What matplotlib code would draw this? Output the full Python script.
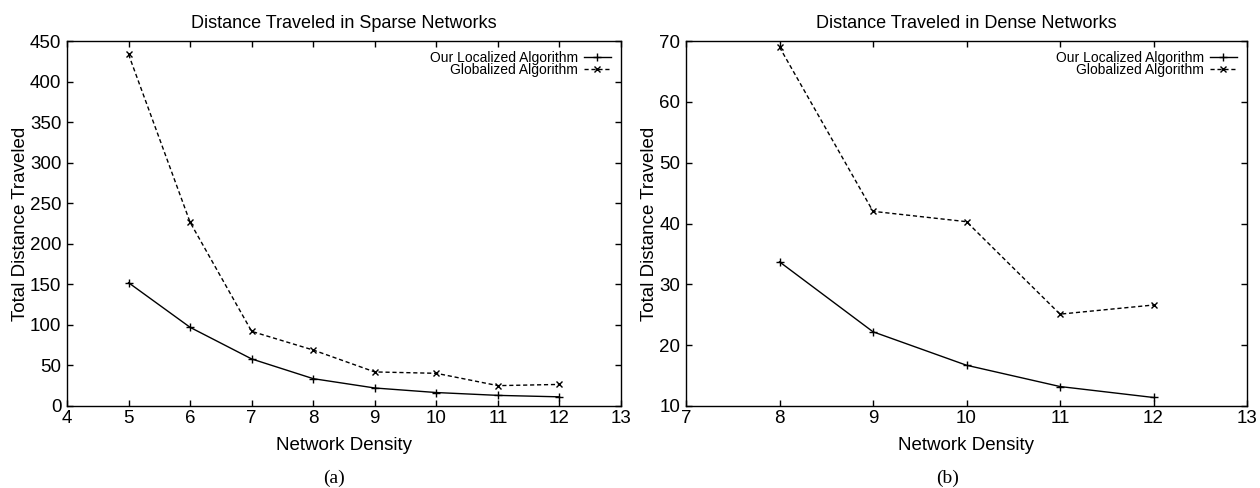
import matplotlib
matplotlib.use("Agg")
import matplotlib.pyplot as plt

plt.rcParams.update({
    "font.family": ["Liberation Sans", "DejaVu Sans"],
    "axes.linewidth": 1.0,
})

# sparse networks
sparse_density = [5, 6, 7, 8, 9, 10, 11, 12]
sparse_local = [152, 97, 58, 33.7, 22.2, 16.6, 13.1, 11.3]
sparse_global = [433.5, 226.5, 92, 69, 42, 40.3, 25.1, 26.6]

# dense networks
dense_density = [8, 9, 10, 11, 12]
dense_local = [33.7, 22.2, 16.7, 13.2, 11.4]
dense_global = [69, 42, 40.3, 25.1, 26.6]

LABELS = ["Our Localized Algorithm", "Globalized Algorithm"]


def draw_panel(ax, x, local, glob, title, xlim, ylim, yticks, caption, cap_x):
    ax.plot(x, local, color="black", lw=1.0, marker="+", ms=6, mew=1.0,
            label=LABELS[0])
    ax.plot(x, glob, color="black", lw=1.0, ls=(0, (3, 2)), marker="x", ms=5,
            mew=1.0, label=LABELS[1])
    ax.set_xlim(*xlim)
    ax.set_ylim(*ylim)
    ax.set_xticks(range(xlim[0], xlim[1] + 1))
    ax.set_yticks(yticks)
    ax.tick_params(direction="in", top=True, right=True, length=4, width=1,
                   labelsize=13.5)
    ax.tick_params(axis="x", pad=3)
    ax.tick_params(axis="y", pad=4)
    ax.set_title(title, fontsize=13, pad=9)
    ax.set_xlabel("Network Density", fontsize=13.5, labelpad=7)
    ax.set_ylabel("Total Distance Traveled", fontsize=13.5, labelpad=1)
    leg = ax.legend(loc="upper right", frameon=False, markerfirst=False,
                    fontsize=10, handlelength=2.0, handletextpad=0.4,
                    labelspacing=-0.1, borderaxespad=0.4, borderpad=0.3)
    for t in leg.get_texts():
        t.set_ha("right")
    # caption under each panel, centred like the original figure
    fig.text(cap_x / 1260, 1 - 478 / 488, caption, ha="center",
             va="center", fontsize=14, family=["Liberation Serif", "DejaVu Serif"])


fig = plt.figure(figsize=(12.6, 4.88), dpi=100)
ax1 = fig.add_axes([67 / 1260, 1 - 406 / 488, 554 / 1260, 365 / 488])
ax2 = fig.add_axes([686 / 1260, 1 - 406 / 488, 561 / 1260, 365 / 488])

draw_panel(ax1, sparse_density, sparse_local, sparse_global,
           "Distance Traveled in Sparse Networks", (4, 13), (0, 450),
           range(0, 451, 50), "(a)", 334)
draw_panel(ax2, dense_density, dense_local, dense_global,
           "Distance Traveled in Dense Networks", (7, 13), (10, 70),
           range(10, 71, 10), "(b)", 948)

fig.savefig("out.png", dpi=100, facecolor="white")
